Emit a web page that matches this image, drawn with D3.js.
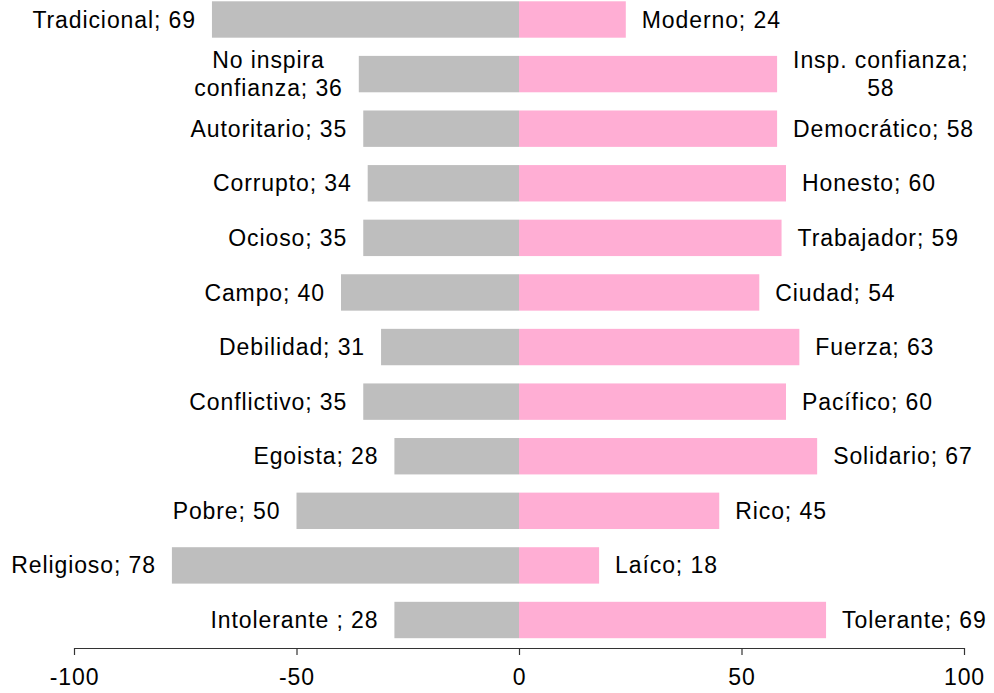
<!DOCTYPE html>
<html>
<head>
<meta charset="utf-8">
<script src="https://cdn.jsdelivr.net/npm/d3@7"></script>
<style>
  html, body { margin: 0; padding: 0; background: #fff; }
  text { font-family: "Liberation Sans", Arial, Helvetica, sans-serif; fill: #000; }
</style>
</head>
<body>
<svg id="chart" width="994" height="693"></svg>
<script>
// Semantic differential: negative pole (left) vs positive pole (right), in %
const leftNames = ["Tradicional", "No inspira\nconfianza", "Autoritario", "Corrupto", "Ocioso", "Campo",
  "Debilidad", "Conflictivo", "Egoista", "Pobre", "Religioso", "Intolerante "];
const leftValues = [69, 36, 35, 34, 35, 40, 31, 35, 28, 50, 78, 28];

const rightNames = ["Moderno", "Insp. confianza", "Democrático", "Honesto", "Trabajador", "Ciudad",
  "Fuerza", "Pacífico", "Solidario", "Rico", "Laíco", "Tolerante"];
const rightValues = [24, 58, 58, 60, 59, 54, 63, 60, 67, 45, 18, 69];
// separator between name and value in the right-hand labels
const rightSeps = ["; ", ";\n", "; ", "; ", "; ", "; ", "; ", "; ", "; ", "; ", "; ", "; "];

const xTicks = [-100, -50, 0, 50, 100];

const svg = d3.select("#chart");
const fontSize = 23;
const spacing = 0.9;

const x = d3.scaleLinear().domain([-100, 100]).range([74, 964]);
const rows = d3.range(leftValues.length);
const y = d3.scaleBand().domain(rows).range([-7.8, 647.3]).paddingInner(1 / 3).paddingOuter(1 / 6);

const grey = "#BEBEBE";
const pink = "#FFAED4";

// bars
svg.append("g").selectAll("rect").data(rows).join("rect")
  .attr("x", i => x(-leftValues[i]))
  .attr("width", i => x(0) - x(-leftValues[i]))
  .attr("y", i => y(i))
  .attr("height", y.bandwidth())
  .attr("fill", grey);

svg.append("g").selectAll("rect").data(rows).join("rect")
  .attr("x", x(0))
  .attr("width", i => x(rightValues[i]) - x(0))
  .attr("y", i => y(i))
  .attr("height", y.bandwidth())
  .attr("fill", pink);

// labels: single-line labels are anchored at the bar end, multi-line ones are centred as a block
const gap = 16;
const lineH = 28;

function drawLabel(g, str, edge, side, cy) {
  const lines = str.split("\n");
  const t = g.append("text").attr("font-size", fontSize).attr("letter-spacing", spacing);
  if (lines.length === 1) {
    t.attr("x", side < 0 ? edge - gap : edge + gap)
      .attr("y", cy).attr("dy", "0.35em")
      .attr("text-anchor", side < 0 ? "end" : "start")
      .text(str);
    return;
  }
  // measure widest line to centre the block
  t.attr("text-anchor", "middle");
  const tmp = g.append("text").attr("font-size", fontSize).attr("letter-spacing", spacing);
  let w = 0;
  lines.forEach(l => { tmp.text(l); w = Math.max(w, tmp.node().getComputedTextLength()); });
  tmp.remove();
  const cx = side < 0 ? edge - gap - w / 2 : edge + gap + w / 2;
  lines.forEach((l, k) => {
    t.append("tspan").attr("x", cx)
      .attr("y", cy + (k - (lines.length - 1) / 2) * lineH)
      .attr("dy", "0.35em").text(l);
  });
}

const lg = svg.append("g");
rows.forEach(i => {
  const cy = y(i) + y.bandwidth() / 2;
  drawLabel(lg, leftNames[i] + "; " + leftValues[i], x(-leftValues[i]), -1, cy);
  drawLabel(lg, rightNames[i] + rightSeps[i] + rightValues[i], x(rightValues[i]), 1, cy);
});

// x axis (plain hyphen for negative numbers)
const axis = d3.axisBottom(x).tickValues(xTicks).tickSize(7).tickSizeOuter(0).tickPadding(14)
  .tickFormat(d => String(d));
const ax = svg.append("g").attr("transform", "translate(0,648)").call(axis);
ax.select(".domain").attr("stroke", "#333").attr("stroke-width", 1.2);
ax.selectAll(".tick line").attr("stroke", "#333").attr("stroke-width", 1.2);
ax.selectAll(".tick text")
  .attr("font-size", fontSize)
  .attr("letter-spacing", spacing)
  .attr("font-family", "'Liberation Sans', Arial, Helvetica, sans-serif")
  .attr("fill", "#000");
</script>
</body>
</html>
